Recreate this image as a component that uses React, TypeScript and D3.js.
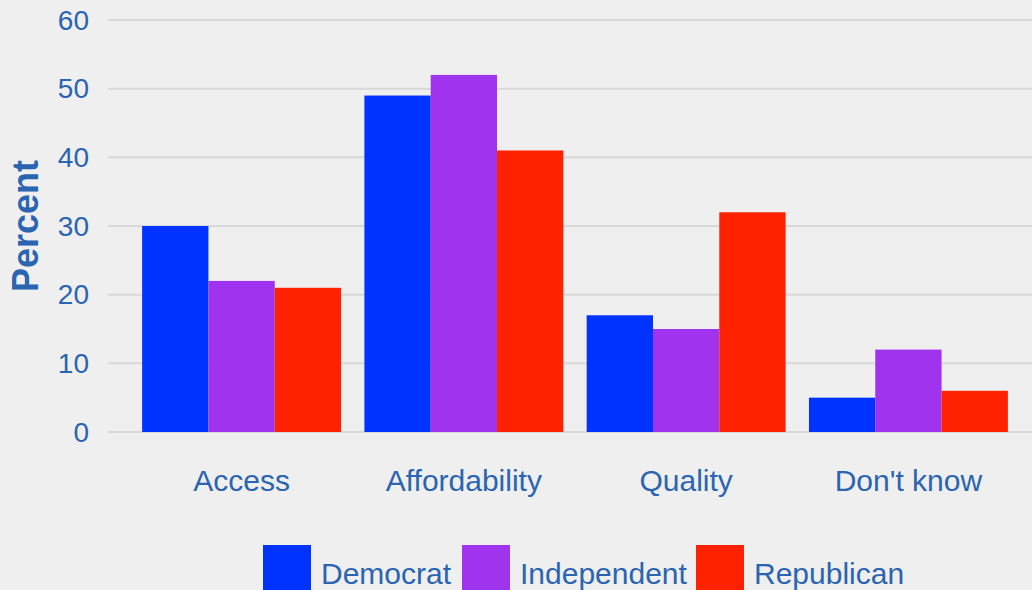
import React from "react";
import * as d3 from "d3";

const categories = ["Access", "Affordability", "Quality", "Don't know"];
const seriesNames = ["Democrat", "Independent", "Republican"];
const democrat = [30, 49, 17, 5];
const independent = [22, 52, 15, 12];
const republican = [21, 41, 32, 6];
const yTicks = [0, 10, 20, 30, 40, 50, 60];
const colors = ["#0033ff", "#a033ee", "#ff2200"];

const W = 1032;
const H = 590;
const textColor = "#2b64b0";
const font = "'Liberation Sans', Arial, sans-serif";

export default function App() {
  const series = [democrat, independent, republican];
  const y = d3.scaleLinear().domain([0, 60]).range([432, 20]);
  const x0 = d3.scaleBand<string>().domain(categories).range([131, 1019]).paddingInner(0.105).paddingOuter(0.05);
  const x1 = d3.scaleBand<string>().domain(seriesNames).range([0, x0.bandwidth()]);

  const legendX = [263, 462, 696];

  return (
    <svg width={W} height={H} style={{ position: "absolute", left: 0, top: 0, background: "#efefef" }} fontFamily={font}>
      <rect x={0} y={0} width={W} height={H} fill="#efefef" />
      {yTicks.map((t) => (
        <g key={t}>
          <line x1={108} x2={W} y1={y(t)} y2={y(t)} stroke="#d8d8d8" strokeWidth={2} />
          <text x={89} y={y(t)} dy="0.35em" textAnchor="end" fontSize={28} fill={textColor}>
            {t}
          </text>
        </g>
      ))}
      <text
        transform={`translate(38,226) rotate(-90)`}
        textAnchor="middle"
        fontSize={36}
        fontWeight="bold"
        fill={textColor}
      >
        Percent
      </text>
      {categories.map((c, i) => (
        <g key={c} transform={`translate(${x0(c)},0)`}>
          {seriesNames.map((s, j) => (
            <rect
              key={s}
              x={x1(s)}
              y={y(series[j][i])}
              width={x1.bandwidth()}
              height={y(0) - y(series[j][i])}
              fill={colors[j]}
            />
          ))}
          <text x={x0.bandwidth() / 2} y={491} textAnchor="middle" fontSize={30} fill={textColor}>
            {c}
          </text>
        </g>
      ))}
      {seriesNames.map((s, j) => (
        <g key={s}>
          <rect x={legendX[j]} y={545} width={48} height={50} fill={colors[j]} />
          <text x={legendX[j] + 58} y={584} fontSize={30} fill={textColor}>
            {s}
          </text>
        </g>
      ))}
    </svg>
  );
}
